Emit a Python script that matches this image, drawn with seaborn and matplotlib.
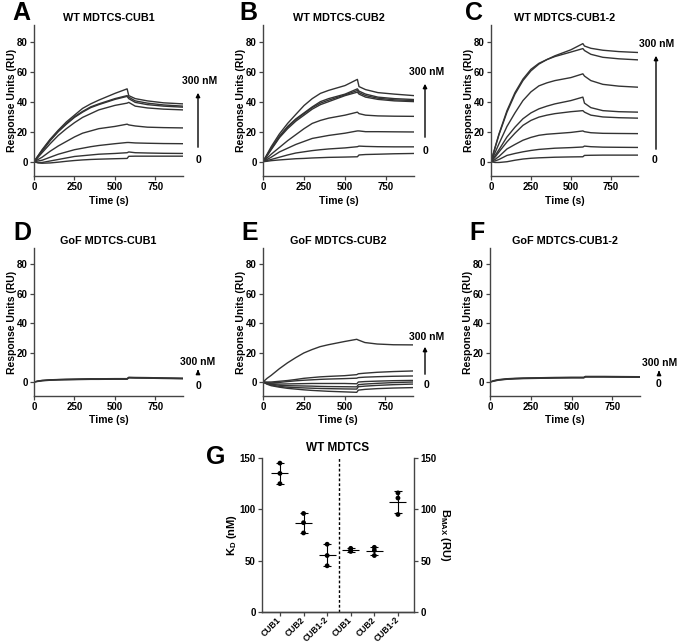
import numpy as np
import pandas as pd
import matplotlib.pyplot as plt
import seaborn as sns
from matplotlib.patches import FancyArrowPatch

# sensorgram sample times (s)
t = [0, 25, 50, 100, 150, 200, 250, 300, 350, 400, 500, 575, 585, 625, 700, 800, 920]

# WT MDTCS-CUB1 (0 -> 300 nM)
wt_cub1 = [
    [0, -0.8, -1, -0.8, -0.3, 0.3, 0.8, 1.2, 1.5, 1.7, 2, 2.2, 3.6, 3.7, 3.7, 3.7, 3.7],
    [0, -0.5, -0.5, 0.5, 1.5, 2.5, 3.5, 4, 4.5, 5, 5.5, 6, 6.5, 6, 5.8, 5.6, 5.5],
    [0, 0.5, 1, 3, 5, 6.5, 8, 9, 10, 10.8, 12, 12.8, 12.8, 12.5, 12.3, 12.1, 12],
    [0, 1.5, 3, 7, 10.5, 13.5, 16.5, 19, 20.5, 22, 23.5, 25, 24.5, 23.8, 23, 22.7, 22.5],
    [0, 3, 6, 12, 17.5, 22, 26, 29.5, 32, 34.5, 37.5, 39, 39.5, 37, 35.8, 35, 34.5],
    [0, 3.5, 7, 14, 20, 25, 29.5, 33, 36, 38, 41.5, 43.5, 42, 39.5, 38, 37, 36.3],
    [0, 3.8, 7.5, 14.5, 20.5, 25.5, 30, 33.5, 36.5, 38.5, 42, 44, 43, 40.5, 39, 37.8, 37],
    [0, 4, 8, 15, 21, 26.5, 31, 35.5, 38.5, 41, 45.5, 48.5, 44, 42, 40.5, 39.2, 38.5],
]
# WT MDTCS-CUB2
wt_cub2 = [
    [0, 0.3, 0.7, 1.2, 1.6, 2, 2.2, 2.5, 2.7, 2.9, 3.1, 3.3, 4.5, 4.8, 5.0, 5.3, 5.5],
    [0, 0.8, 1.5, 3, 4.5, 5.8, 6.6, 7.4, 8, 8.5, 9.2, 10, 10.4, 10.2, 10, 9.9, 9.9],
    [0, 1.5, 3, 6.5, 9, 11.5, 13.5, 15.5, 16.5, 17.5, 19, 20.5, 20.5, 20, 20, 19.9, 19.8],
    [0, 2.5, 5, 9.5, 14, 18, 22, 25.5, 27.5, 29, 31, 33, 32, 31, 30.5, 30.3, 30.2],
    [0, 4, 8, 16, 22, 27, 31, 35, 38, 40, 44, 46.3, 45, 43, 41.5, 40.5, 40],
    [0, 4.3, 8.5, 16.5, 23, 28, 32, 36, 39, 41, 44.5, 47.4, 46, 44, 42.3, 41.2, 40.7],
    [0, 4.5, 9, 17, 23.5, 28.5, 32.5, 36.5, 40, 42, 45, 48.5, 47, 45, 43, 42, 41.4],
    [0, 5, 10, 18.5, 25.5, 31.5, 37.4, 42, 45.5, 47.5, 50.7, 54.8, 50, 48, 46, 45, 44],
]
# WT MDTCS-CUB1-2
wt_cub12 = [
    [0, -0.5, -0.5, 0, 1, 1.8, 2.3, 2.6, 2.8, 3, 3.2, 3.3, 4.2, 4.3, 4.4, 4.4, 4.4],
    [0, 0.5, 1.5, 4.2, 5.5, 6.6, 7.5, 8.2, 8.6, 9, 9.4, 9.8, 10.4, 10, 9.7, 9.6, 9.5],
    [0, 1.5, 3.5, 8.5, 11.5, 14.3, 16.2, 17.6, 18.3, 18.7, 19.5, 20.5, 20, 19.3, 18.9, 18.8, 18.7],
    [0, 3, 6.5, 13.2, 19, 24.2, 27.5, 29.7, 31, 32, 33.3, 34, 33, 31, 29.8, 29.3, 29],
    [0, 4, 8, 16.5, 23, 28.6, 32.5, 35.2, 37, 38.5, 40.7, 43, 39, 36, 34, 33.3, 33],
    [0, 6, 12, 23.5, 32.5, 40.7, 46.5, 50.5, 52.5, 54, 56, 58.5, 57, 54, 51.5, 50.3, 49.6],
    [0, 9.5, 18.5, 34, 46, 55, 61.5, 65.5, 68, 70, 73, 75.3, 74, 71.5, 69.5, 68.5, 67.8],
    [0, 9, 18, 33, 45, 54, 60.5, 65, 68, 70.5, 74.5, 78.6, 77, 75.5, 74.2, 73.3, 72.7],
]
# GoF MDTCS-CUB1
gof_cub1 = [
    [0, 0.6, 1, 1.4, 1.6, 1.7, 1.8, 1.9, 2, 2, 2.1, 2.1, 3, 2.9, 2.8, 2.6, 2.4],
    [0, 0.4, 0.8, 1.2, 1.4, 1.5, 1.6, 1.7, 1.8, 1.8, 1.9, 1.9, 2.8, 2.7, 2.6, 2.4, 2.2],
    [0, 0.7, 1.1, 1.5, 1.7, 1.9, 2, 2.1, 2.2, 2.2, 2.3, 2.3, 3.2, 3.1, 3, 2.8, 2.6],
]
# GoF MDTCS-CUB2
gof_cub2 = [
    [0, -1.5, -2.5, -3.5, -4.3, -4.8, -5.3, -5.7, -6, -6.3, -6.7, -7, -5.5, -5, -4.5, -4.1, -3.8],
    [0, -1.2, -2, -3, -3.5, -3.8, -4, -4.2, -4.4, -4.5, -4.7, -4.8, -3.2, -2.8, -2.3, -1.8, -1.4],
    [0, -1, -1.5, -2.2, -2.5, -2.6, -2.7, -2.8, -3, -3.1, -3.2, -3.3, -1.8, -1.4, -0.9, -0.4, 0],
    [0, -0.8, -1.2, -1.4, -1.3, -1.2, -1.1, -1.0, -1.0, -1.0, -1.0, -1.2, 0, 0.3, 0.6, 0.9, 1.1],
    [0, -0.5, -0.6, -0.3, 0.3, 0.8, 1.2, 1.5, 1.8, 2, 2.3, 2.6, 3, 3.3, 3.6, 3.9, 4.1],
    [0, 0, 0, 0.5, 1, 1.7, 2.5, 3, 3.5, 3.8, 4.3, 5, 5.6, 6, 6.6, 7.1, 7.5],
    [0, 2.5, 4.5, 9, 13, 16.5, 19.7, 22, 24, 25.3, 27.5, 29, 28.5, 26.8, 25.8, 25.3, 25.2],
]
# GoF MDTCS-CUB1-2
gof_cub12 = [
    [0, 0.8, 1.4, 2, 2.3, 2.5, 2.6, 2.7, 2.8, 2.9, 3, 3, 3.6, 3.6, 3.6, 3.5, 3.4],
    [0, 0.6, 1.2, 1.8, 2.1, 2.3, 2.4, 2.5, 2.6, 2.7, 2.8, 2.8, 3.4, 3.4, 3.4, 3.3, 3.2],
    [0, 1.0, 1.6, 2.2, 2.5, 2.7, 2.8, 2.9, 3, 3.1, 3.2, 3.2, 3.8, 3.8, 3.8, 3.7, 3.6],
]

# panel G: K_D (nM) and B_MAX (RU), three replicates each
constructs = ['CUB1', 'CUB2', 'CUB1-2']
kd = {'CUB1': [145, 135, 125], 'CUB2': [96, 87, 77], 'CUB1-2': [66, 55, 45]}
bmax = {'CUB1': [62, 60, 59], 'CUB2': [63, 55, 60], 'CUB1-2': [116, 111, 95]}

sns.set_theme(style='ticks')
plt.rcParams['font.family'] = ['Liberation Sans', 'DejaVu Sans']
plt.rcParams['font.weight'] = 'bold'
plt.rcParams['mathtext.fontset'] = 'custom'
plt.rcParams['mathtext.bf'] = 'Liberation Sans:bold'
plt.rcParams['mathtext.rm'] = 'Liberation Sans:bold'
plt.rcParams['text.color'] = 'black'
plt.rcParams['axes.labelcolor'] = 'black'

W, H = 683, 644
fig = plt.figure(figsize=(W / 100, H / 100), dpi=100)


def rect(l, top, r, b):
    return [l / W, 1 - b / H, (r - l) / W, (b - top) / H]


def fp(x, y):
    return (x / W, 1 - y / H)


line_col = '#333333'
spine_col = '#444444'
tick_kw = dict(length=3, width=0.9, labelsize=7, pad=1.5, color=spine_col, labelcolor='black')

panels = [
    ('A', 'WT MDTCS-CUB1', wt_cub1, rect(34, 25, 183, 176), (21, 13)),
    ('B', 'WT MDTCS-CUB2', wt_cub2, rect(263, 25, 414, 176), (248, 13)),
    ('C', 'WT MDTCS-CUB1-2', wt_cub12, rect(491, 25, 638, 176), (474, 13)),
    ('D', 'GoF MDTCS-CUB1', gof_cub1, rect(34, 248, 183, 396), (22, 233)),
    ('E', 'GoF MDTCS-CUB2', gof_cub2, rect(263, 248, 413, 396), (250, 233)),
    ('F', 'GoF MDTCS-CUB1-2', gof_cub12, rect(490, 248, 640, 396), (477, 233)),
]

for letter, title, curves, r, lpos in panels:
    ax = fig.add_axes(r)
    for c in curves:
        sns.lineplot(x=t, y=c, ax=ax, color=line_col, lw=1.0)
    ax.set_xlim(0, 920)
    ax.set_ylim(-9.5, 91)
    ax.set_xticks([0, 250, 500, 750])
    ax.set_yticks([0, 20, 40, 60, 80])
    sns.despine(ax=ax)
    for s in ['left', 'bottom']:
        ax.spines[s].set_color(spine_col)
        ax.spines[s].set_linewidth(1.0)
    ax.tick_params(**tick_kw)
    ax.set_xlabel('Time (s)', fontsize=7.5, fontweight='bold')
    ax.set_ylabel('Response Units (RU)', fontsize=7.5, fontweight='bold')
    ax.xaxis.set_label_coords(0.5, -0.13)
    ax.yaxis.set_label_coords(-0.115, 0.5)
    ax.set_title(title, fontsize=7.8, fontweight='bold', pad=3)
    fig.text(*fp(*lpos), letter, fontsize=18, fontweight='bold',
             ha='center', va='center')

# concentration arrows
arrows = [
    ((200, 81), 198, 150, 90, (198, 160)),
    ((427, 72), 425, 140, 81, (425, 151)),
    ((657, 44), 656, 152, 53, (655, 160)),
    ((198, 362), 198, 374, 367, (198, 386)),
    ((427, 337), 425, 377, 344, (426, 385)),
    ((660, 363), 659, 375, 368, (659, 384)),
]
for tpos, ax_x, y0, y1, zpos in arrows:
    fig.text(*fp(*tpos), '300 nM', fontsize=7.5, fontweight='bold', ha='center', va='center')
    fig.text(*fp(*zpos), '0', fontsize=7.5, fontweight='bold', ha='center', va='center')
    fig.add_artist(FancyArrowPatch(
        fp(ax_x, y0), fp(ax_x, y1), transform=fig.transFigure,
        arrowstyle='-|>', mutation_scale=6, lw=1.0, color='black'))

# panel G
rows = []
for i, name in enumerate(constructs):
    for v in kd[name]:
        rows.append(('KD', name, i, v))
    for v in bmax[name]:
        rows.append(('BMAX', name, i + 3, v))
df = pd.DataFrame(rows, columns=['param', 'construct', 'pos', 'value'])
stats = df.groupby(['param', 'pos'])['value'].agg(['mean', 'std']).reset_index()

axG = fig.add_axes(rect(262, 458, 414, 612))
ax2 = axG.twinx()
for a, p in [(axG, 'KD'), (ax2, 'BMAX')]:
    sub = df[df['param'] == p]
    sns.scatterplot(data=sub, x='pos', y='value', ax=a, color='black', s=12,
                    edgecolor='none', legend=False)
    st = stats[stats['param'] == p]
    a.errorbar(st['pos'], st['mean'], yerr=st['std'], fmt='none', ecolor='black',
               elinewidth=0.8, capsize=3, capthick=0.8)
    a.hlines(st['mean'], st['pos'] - 0.36, st['pos'] + 0.36, color='black', lw=0.8)
    a.set_ylim(0, 150)
    a.set_yticks([0, 50, 100, 150])
    a.set_xlabel('')
    a.set_ylabel('')

axG.axvline(2.5, color='black', lw=1.0, ls=(0, (2, 1.5)))
axG.set_xlim(-0.76, 5.68)
axG.set_xticks(range(6))
axG.set_xticklabels(constructs + constructs, rotation=45, ha='right', va='center',
                    rotation_mode='anchor', fontsize=6.2, fontweight='bold')
axG.spines['top'].set_visible(False)
axG.spines['right'].set_visible(False)
ax2.spines['top'].set_visible(False)
ax2.spines['left'].set_visible(False)
for a in [axG, ax2]:
    for s in a.spines.values():
        s.set_color(spine_col)
        s.set_linewidth(1.0)
    a.tick_params(**tick_kw)
axG.tick_params(axis='x', pad=1.5, labelsize=6.2)
axG.set_ylabel(r'$\mathbf{K_D}$ (nM)', fontsize=8, fontweight='bold')
axG.yaxis.set_label_coords(-0.15, 0.5)
ax2.set_ylabel(r'$\mathbf{B_{MAX}}$ (RU)', fontsize=8, fontweight='bold', rotation=270)
ax2.yaxis.set_label_coords(1.25, 0.5)
axG.set_title('WT MDTCS', fontsize=8.5, fontweight='bold', pad=5)
fig.text(*fp(216, 457), 'G', fontsize=18, fontweight='bold', ha='center', va='center')

fig.savefig('out.png', dpi=100)
